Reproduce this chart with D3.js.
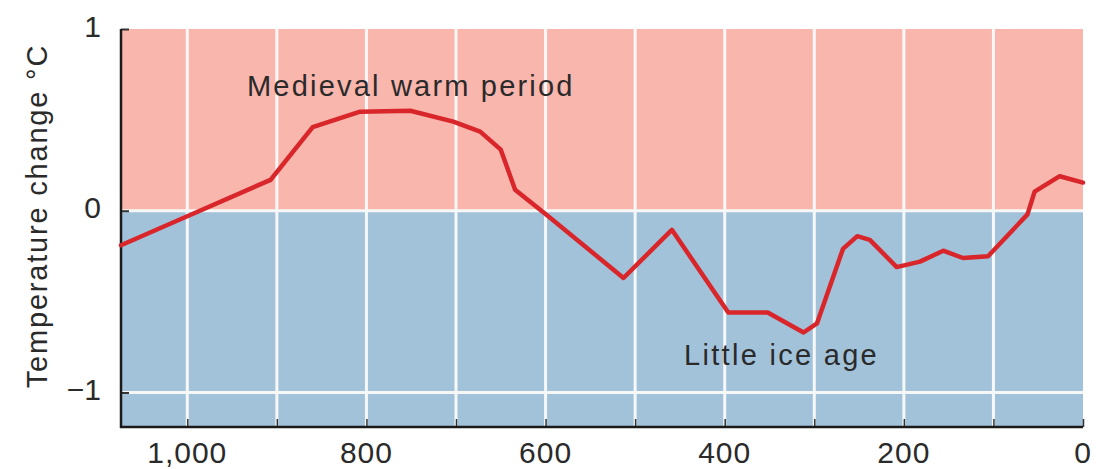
<!DOCTYPE html>
<html>
<head>
<meta charset="utf-8">
<script src="https://cdn.jsdelivr.net/npm/d3@7"></script>
<style>
  html, body { margin: 0; padding: 0; background: #ffffff; }
  svg { display: block; }
  text { font-family: "Liberation Sans", Arial, Helvetica, sans-serif; fill: #2a2a2a; }
</style>
</head>
<body>
<svg id="chart" width="1102" height="469"></svg>
<script>
// ---- data ----
const years = [1074, 1000, 907, 860, 807, 751, 703, 673, 650, 634, 597, 513, 459, 396, 352, 312, 297, 268, 252, 238, 208, 182, 156, 134, 106, 62, 54, 26, 0];
const temps = [-0.19, -0.03, 0.17, 0.46, 0.545, 0.55, 0.49, 0.435, 0.336, 0.116, -0.03, -0.37, -0.105, -0.56, -0.56, -0.67, -0.62, -0.21, -0.14, -0.16, -0.31, -0.28, -0.22, -0.26, -0.25, -0.02, 0.105, 0.19, 0.155];
const xTicks = [1000, 800, 600, 400, 200, 0];
const xGrid = [1000, 900, 800, 700, 600, 500, 400, 300, 200, 100, 0];
const yTicks = [1, 0, -1];
const yTitle = "Temperature change °C";
const warmLabel = "Medieval warm period";
const coldLabel = "Little ice age";

// ---- layout ----
const W = 1102, H = 469;
const m = { left: 121, top: 29, right: 19, bottom: 42 };
const svg = d3.select("#chart");

const x = d3.scaleLinear().domain([1074, 0]).range([m.left, W - m.right]);
const y = d3.scaleLinear().domain([-1.19, 1.0]).range([H - m.bottom, m.top]);

// backgrounds
svg.append("rect")
  .attr("x", x(1074)).attr("y", y(1.0))
  .attr("width", x(0) - x(1074)).attr("height", y(0) - y(1.0))
  .attr("fill", "#f8b6ad");
svg.append("rect")
  .attr("x", x(1074)).attr("y", y(0))
  .attr("width", x(0) - x(1074)).attr("height", y(-1.19) - y(0))
  .attr("fill", "#a2c2da");

// white grid lines
svg.append("g").selectAll("line").data(xGrid.filter(d => d > 0)).join("line")
  .attr("x1", d => x(d)).attr("x2", d => x(d))
  .attr("y1", y(1.0)).attr("y2", y(-1.19))
  .attr("stroke", "#f6f8f8").attr("stroke-width", 3);
svg.append("g").selectAll("line").data([0, -1]).join("line")
  .attr("x1", x(1074)).attr("x2", x(0))
  .attr("y1", d => y(d)).attr("y2", d => y(d))
  .attr("stroke", "#f6f8f8").attr("stroke-width", 3);

// axes
const xAxis = d3.axisBottom(x).tickValues(xGrid).tickSize(-8).tickFormat("");
const gx = svg.append("g").attr("transform", `translate(0,${y(-1.19)})`).call(xAxis);
gx.select(".domain").remove();
gx.selectAll(".tick line").attr("stroke", "#333").attr("stroke-width", 1.5);
svg.append("line")
  .attr("x1", x(1074) - 1).attr("x2", x(0))
  .attr("y1", y(-1.19)).attr("y2", y(-1.19))
  .attr("stroke", "#1a1a1a").attr("stroke-width", 2.5);

const yAxis = d3.axisLeft(y).tickValues(yTicks).tickSize(-8).tickFormat("");
const gy = svg.append("g").attr("transform", `translate(${x(1074)},0)`).call(yAxis);
gy.select(".domain").remove();
gy.selectAll(".tick line").attr("stroke", "#333").attr("stroke-width", 2);
svg.append("line")
  .attr("x1", x(1074)).attr("x2", x(1074))
  .attr("y1", y(1.0)).attr("y2", y(-1.19) + 1)
  .attr("stroke", "#1a1a1a").attr("stroke-width", 2.5);

// tick labels
svg.append("g").selectAll("text").data(xTicks).join("text")
  .attr("x", d => x(d)).attr("y", 463)
  .attr("text-anchor", "middle")
  .attr("font-size", 30).attr("letter-spacing", "1px")
  .text(d => d3.format(",")(d));
svg.append("g").selectAll("text").data(yTicks).join("text")
  .attr("x", 101).attr("y", d => y(d) - 3)
  .attr("text-anchor", "end").attr("dominant-baseline", "central")
  .attr("font-size", 30)
  .text(d => d < 0 ? "\u2212" + Math.abs(d) : d);

// y title
svg.append("text")
  .attr("transform", `translate(47,${216}) rotate(-90)`)
  .attr("text-anchor", "middle")
  .attr("font-size", 29).attr("letter-spacing", "1.8px")
  .text(yTitle);

// line
const line = d3.line().x((d, i) => x(years[i])).y((d, i) => y(temps[i])).curve(d3.curveLinear);
svg.append("path").datum(temps)
  .attr("d", line)
  .attr("fill", "none")
  .attr("stroke", "#d8262b").attr("stroke-width", 4.5)
  .attr("stroke-linejoin", "round").attr("stroke-linecap", "round");

// annotations
svg.append("text")
  .attr("x", 247).attr("y", 96)
  .attr("font-size", 29).attr("letter-spacing", "2.2px")
  .text(warmLabel);
svg.append("text")
  .attr("x", 684).attr("y", 365)
  .attr("font-size", 29).attr("letter-spacing", "2.3px")
  .attr("fill", "#1f3340")
  .text(coldLabel);
</script>
</body>
</html>
